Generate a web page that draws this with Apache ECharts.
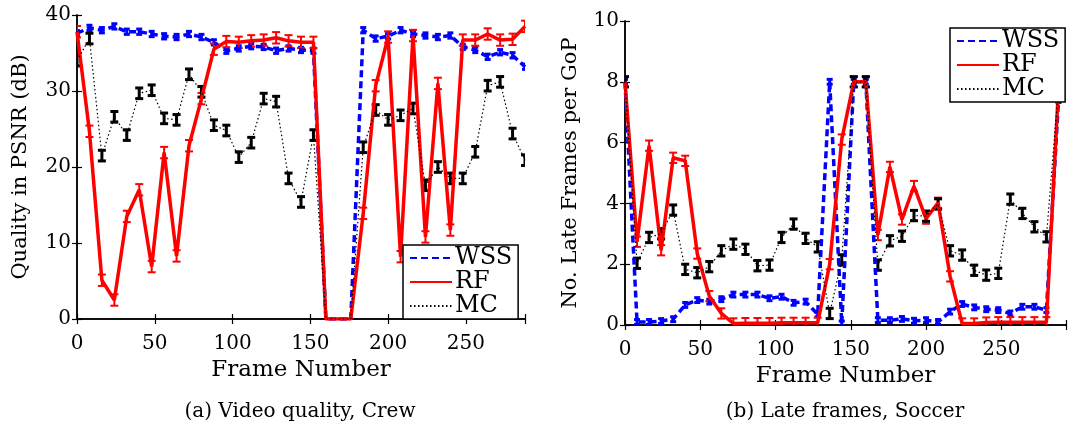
<!DOCTYPE html>
<html><head><meta charset="utf-8">
<script src="https://cdn.jsdelivr.net/npm/echarts@6/dist/echarts.min.js"></script>
<style>html,body{margin:0;padding:0;background:#fff}#c{width:1069px;height:426px}</style>
</head><body><div id="c"></div>
<script>
// frame numbers (every 8 frames)
const frames = [0,8,16,24,32,40,48,56,64,72,80,88,96,104,112,120,128,136,144,152,160,168,176,184,192,200,208,216,224,232,240,248,256,264,272,280,288];

// (a) Video quality, Crew — PSNR in dB
const wssA = [37.6,38.3,38.0,38.5,37.8,37.8,37.5,37.2,37.1,37.5,37.1,36.4,35.3,35.6,35.9,35.8,35.3,35.6,35.4,35.3,0,0,0,38.0,36.9,37.2,38.0,37.5,37.3,37.1,37.3,35.8,35.4,34.5,35.1,34.7,33.2];
const rfA  = [37.8,24.7,5.1,2.5,13.5,17.0,6.9,21.9,8.3,22.8,29.0,35.5,36.5,36.4,36.6,36.7,37.0,36.6,36.4,36.4,0,0,0,13.9,30.7,37.1,8.2,37.3,10.8,31.0,11.7,36.7,36.7,37.5,36.7,36.8,38.5];
const mcA  = [34.0,36.9,21.5,26.6,24.2,29.7,30.1,26.4,26.2,32.2,29.9,25.5,24.8,21.3,23.2,29.0,28.6,18.5,15.4,24.2,0,0,0,22.6,27.5,26.2,26.8,27.7,17.6,20.0,18.5,18.5,22.0,30.7,31.2,24.4,20.9];

// (b) Late frames, Soccer — late frames per GoP
const wssB = [8,0.1,0.1,0.13,0.19,0.66,0.82,0.77,0.85,1.0,1.0,1.0,0.88,0.93,0.73,0.77,0.35,8,0.05,8,8,0.16,0.16,0.2,0.14,0.16,0.1,0.44,0.69,0.58,0.52,0.49,0.38,0.6,0.6,0.49,7.4];
const rfB  = [8,2.74,5.9,2.46,5.5,5.4,2.35,0.95,0.38,0.05,0.06,0.06,0.06,0.07,0.07,0.07,0.07,2.0,6.1,8,8,2.96,5.2,3.47,4.57,3.5,4.02,1.6,0.05,0.05,0.08,0.09,0.09,0.09,0.09,0.09,7.8];
const mcB  = [8,2.03,2.88,3.0,3.78,1.83,1.72,1.92,2.44,2.66,2.49,1.95,1.97,2.88,3.32,2.85,2.57,0.38,2.14,8,8,1.97,2.77,2.92,3.6,3.58,3.98,2.44,2.3,1.8,1.64,1.7,4.14,3.67,3.23,2.9,7.8];

// confidence half-widths
const errA = {WSS:0.35, RF:0.75, MC:0.7};
const errB = {WSS:0.08, RF:0.17, MC:0.17};

const xTicksA = [0,50,100,150,200,250];
const legendNames = ['WSS','RF','MC'];
const captionA = '(a) Video quality, Crew';
const captionB = '(b) Late frames, Soccer';

const FONT = 'DejaVu Serif';
const COL = {WSS:'#0000ff', RF:'#ff0000', MC:'#000000'};
const LS = {
  WSS:{color:COL.WSS, width:3.5, type:[7,4]},
  RF:{color:COL.RF, width:3.5, type:'solid'},
  MC:{color:COL.MC, width:1.2, type:[1.5,2.5]}
};
const EB = {WSS:{w:3,hw:3}, RF:{w:2,hw:4}, MC:{w:3,hw:4}};

function pairs(vals){ return frames.map((f,i)=>[f, vals[i]]); }

function errSeries(name, vals, err, xi, yi){
  const st = EB[name];
  return {
    name: name+' err', type:'custom', xAxisIndex:xi, yAxisIndex:yi, clip:true, silent:true,
    data: pairs(vals),
    renderItem(params, api){
      const x = api.value(0), v = api.value(1);
      if (v <= 0) return null;
      const c = api.coord([x, v]);
      const t = api.coord([x, v+err])[1];
      const b = api.coord([x, v-err])[1];
      const s = {stroke:COL[name], lineWidth:st.w};
      return {type:'group', children:[
        {type:'line', shape:{x1:c[0],y1:t,x2:c[0],y2:b}, style:s},
        {type:'line', shape:{x1:c[0]-st.hw,y1:t,x2:c[0]+st.hw,y2:t}, style:s},
        {type:'line', shape:{x1:c[0]-st.hw,y1:b,x2:c[0]+st.hw,y2:b}, style:s}
      ]};
    }
  };
}
function lineSeries(name, vals, xi, yi){
  return {name, type:'line', xAxisIndex:xi, yAxisIndex:yi, data:pairs(vals), symbol:'none',
    lineStyle:LS[name], itemStyle:{color:COL[name]}, color:COL[name], animation:false, clip:true};
}

const axisLine = {show:true, lineStyle:{color:'#000', width:1.5}};
const tickIn = {show:true, inside:true, length:5, lineStyle:{color:'#000', width:1.2}};
const lab = {color:'#000', fontFamily:FONT, fontSize:20};

function xAxes(gi, max){
  return [
    {type:'value', gridIndex:gi, position:'bottom', min:0, max:max, interval:50,
     axisLine, axisTick:tickIn, splitLine:{show:false},
     axisLabel:{...lab, margin:15, formatter:v => xTicksA.includes(v) ? String(v) : ''},
     name:'Frame Number', nameLocation:'middle', nameGap:38,
     nameTextStyle:{color:'#000', fontFamily:FONT, fontSize:23}},
    {type:'value', gridIndex:gi, position:'top', min:0, max:max, interval:50,
     axisLine, axisTick:tickIn, axisLabel:{show:false}, splitLine:{show:false}}
  ];
}
function yAxes(gi, max, interval, name, gap){
  return [
    {type:'value', gridIndex:gi, position:'left', min:0, max:max, interval:interval,
     axisLine, axisTick:tickIn, splitLine:{show:false},
     axisLabel:{...lab, margin:6},
     name, nameLocation:'middle', nameGap:gap, nameRotate:90,
     nameTextStyle:{color:'#000', fontFamily:FONT, fontSize:21}},
    {type:'value', gridIndex:gi, position:'right', min:0, max:max, interval:interval,
     axisLine, axisTick:tickIn, axisLabel:{show:false}, splitLine:{show:false}}
  ];
}
function legend(left, top){
  return {data:legendNames, orient:'vertical', left, top, itemWidth:42, itemHeight:14, itemGap:0,
    padding:[1,6,1,6], backgroundColor:'#fff', borderColor:'#000', borderWidth:1.5, borderRadius:0,
    itemStyle:{opacity:0},
    textStyle:{color:'#000', fontFamily:FONT, fontSize:24, lineHeight:21, padding:[0,0,0,-2]}};
}

const chart = echarts.init(document.getElementById('c'));
chart.setOption({
  animation:false,
  backgroundColor:'#fff',
  grid:[
    {left:77, top:15, width:448, height:304},
    {left:625, top:21, width:443, height:304}
  ],
  xAxis:[...xAxes(0, 288), ...xAxes(1, 293)],
  yAxis:[...yAxes(0, 40, 10, 'Quality in PSNR (dB)', 46), ...yAxes(1, 10, 2, 'No. Late Frames per GoP', 44)],
  legend:[legend(403, 245), legend(950, 28)],
  series:[
    lineSeries('WSS', wssA, 0, 0), errSeries('WSS', wssA, errA.WSS, 0, 0),
    lineSeries('RF', rfA, 0, 0), errSeries('RF', rfA, errA.RF, 0, 0),
    lineSeries('MC', mcA, 0, 0), errSeries('MC', mcA, errA.MC, 0, 0),
    lineSeries('WSS', wssB, 2, 2), errSeries('WSS', wssB, errB.WSS, 2, 2),
    lineSeries('RF', rfB, 2, 2), errSeries('RF', rfB, errB.RF, 2, 2),
    lineSeries('MC', mcB, 2, 2), errSeries('MC', mcB, errB.MC, 2, 2)
  ],
  graphic:[
    {type:'text', x:300, y:412, style:{text:captionA, fill:'#000', font:'20px "DejaVu Serif"', align:'center', verticalAlign:'middle'}},
    {type:'text', x:845, y:412, style:{text:captionB, fill:'#000', font:'20px "DejaVu Serif"', align:'center', verticalAlign:'middle'}}
  ]
});
</script></body></html>
